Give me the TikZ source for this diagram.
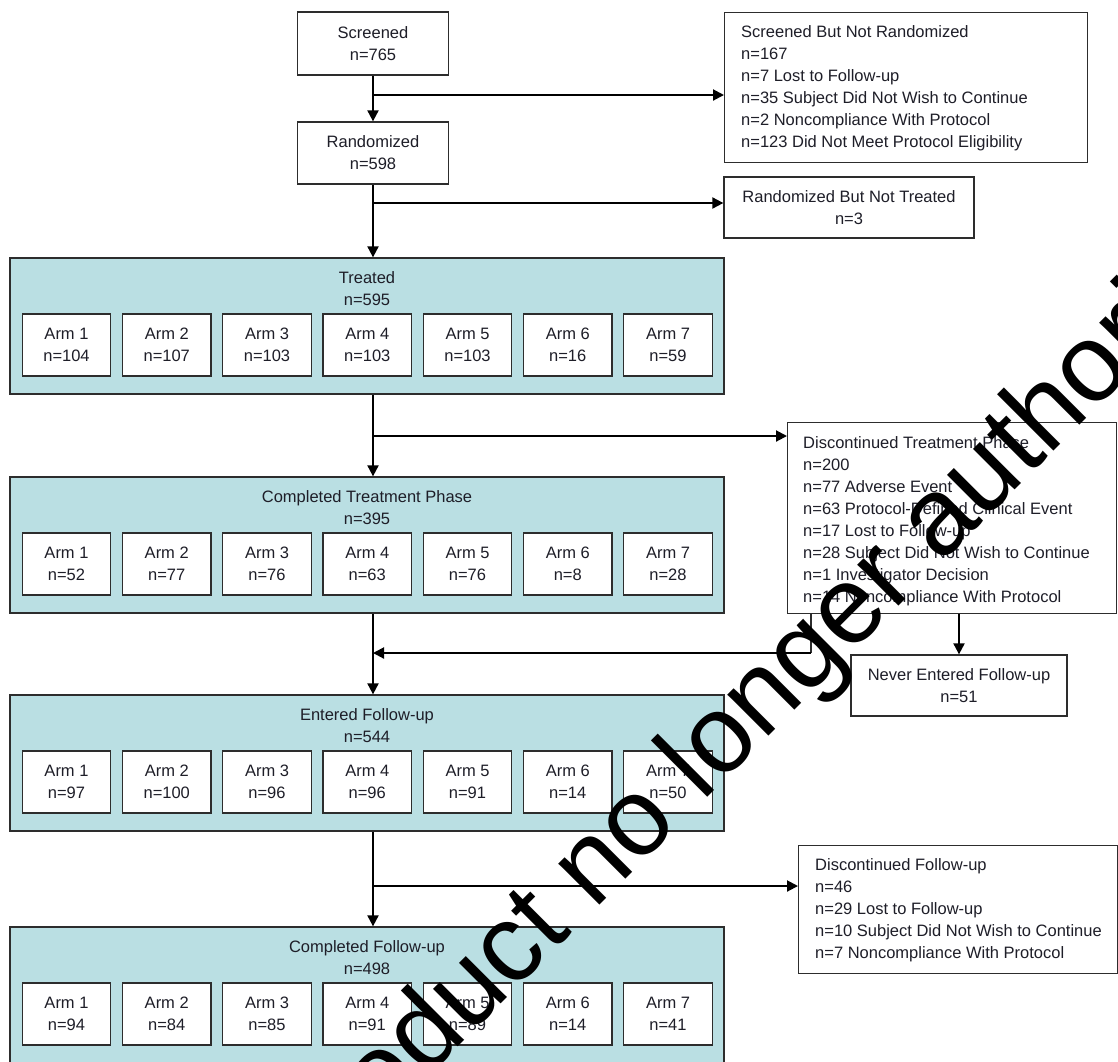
\documentclass[tikz,border=0pt]{standalone}
\usepackage{fontspec}
\setmainfont{Liberation Sans}
\usetikzlibrary{arrows.meta}
\definecolor{panelfill}{RGB}{186,223,227}
\definecolor{boxline}{RGB}{45,45,45}
\definecolor{txt}{RGB}{30,30,40}
\newcommand{\fs}{\fontsize{16.5}{22}\selectfont}
\newcommand{\armgroup}[5]{%
  % #1 name, #2 top y, #3 title, #4 n, #5 values
  \node[panel, minimum width=714, minimum height=136] (#1) at (367,#2+68) {};
  \node[plain, align=center] (#1title) at (367,#2+31) {#3\\#4};
  \foreach \v [count=\i] in {#5} {
    \node[box, align=center, minimum width=88.5, minimum height=62]
      (#1arm\i) at ({66.5+100.25*(\i-1)},#2+87) {Arm \i\\n=\v};
  }%
}
\begin{document}
\begin{tikzpicture}[x=1pt,y=-1pt,
  box/.style={draw=boxline, line width=1.3pt, fill=white, text=txt, font=\fs, inner sep=0pt},
  frame/.style={draw=boxline, line width=1.3pt, fill=white, inner sep=0pt},
  panel/.style={draw=boxline, line width=1.3pt, fill=panelfill, inner sep=0pt},
  plain/.style={text=txt, font=\fs, inner sep=0pt},
  arr/.style={line width=2pt, draw=black, -{Triangle[length=11pt,width=11pt]}},
  thinln/.style={line width=1.3pt, draw=boxline}]
\useasboundingbox (0,0) rectangle (1118,1061);
\clip (0,0) rectangle (1118,1061);
\fill[white] (0,0) rectangle (1118,1061);

% top boxes
\node[box, align=center, minimum width=151, minimum height=63] (scr) at (373,43.5) {Screened\\n=765};
\node[box, align=center, minimum width=151, minimum height=62] (rnd) at (373,153) {Randomized\\n=598};
\node[frame, anchor=north west, minimum width=363, minimum height=150] (snr) at (724,12) {};
\node[plain, align=left, anchor=west] (snrtxt) at ([xshift=17,yshift=-1]snr.west)
  {Screened But Not Randomized\\n=167\\n=7 Lost to Follow-up\\n=35 Subject Did Not Wish to Continue\\n=2 Noncompliance With Protocol\\n=123 Did Not Meet Protocol Eligibility};
\node[box, align=center, minimum width=250, minimum height=61] (rnt) at (849,207.5) {Randomized But Not Treated\\n=3};

% panels
\armgroup{trt}{258}{Treated}{n=595}{104,107,103,103,103,16,59}
\armgroup{ctp}{477}{Completed Treatment Phase}{n=395}{52,77,76,63,76,8,28}
\armgroup{efu}{695}{Entered Follow-up}{n=544}{97,100,96,96,91,14,50}
\armgroup{cfu}{927}{Completed Follow-up}{n=498}{94,84,85,91,89,14,41}

% right boxes
\node[frame, anchor=north west, minimum width=329, minimum height=191] (dtp) at (787,422) {};
\node[plain, align=left, anchor=west] (dtptxt) at ([xshift=16,yshift=-3]dtp.west)
  {Discontinued Treatment Phase\\n=200\\n=77 Adverse Event\\n=63 Protocol-Defined Clinical Event\\n=17 Lost to Follow-up\\n=28 Subject Did Not Wish to Continue\\n=1 Investigator Decision\\n=14 Noncompliance With Protocol};
\node[box, align=center, minimum width=216, minimum height=61] (nef) at (959,685.5) {Never Entered Follow-up\\n=51};
\node[frame, anchor=north west, minimum width=319, minimum height=128] (dfu) at (798,845) {};
\node[plain, align=left, anchor=west] (dfutxt) at ([xshift=17,yshift=-1]dfu.west)
  {Discontinued Follow-up\\n=46\\n=29 Lost to Follow-up\\n=10 Subject Did Not Wish to Continue\\n=7 Noncompliance With Protocol};

% connectors
\coordinate (b1) at (373,95);
\coordinate (b2) at (373,203);
\coordinate (b3) at (373,436);
\coordinate (b4) at (373,886);
\coordinate (j) at (811,653);
\draw[arr] (scr.south) -- (rnd.north);
\draw[arr] (b1) -- (b1 -| snr.west);
\draw[arr] (rnd.south) -- (rnd.south |- trt.north);
\draw[arr] (b2) -- (b2 -| rnt.west);
\draw[arr] (trt.south -| b3) -- (ctp.north -| b3);
\draw[arr] (b3) -- (b3 -| dtp.west);
\draw[arr] (ctp.south -| b3) -- (efu.north -| b3);
\draw[thinln] (dtp.south -| j) -- (j);
\draw[arr] (j) -- (j -| b3);
\draw[arr] (dtp.south -| nef.north) -- (nef.north);
\draw[arr] (efu.south -| b4) -- (cfu.north -| b4);
\draw[arr] (b4) -- (b4 -| dfu.west);

% watermark
\node[rotate=45, anchor=base west, inner sep=0pt, text=black,
  font=\fontsize{110}{120}\selectfont] (wm) at (-36.5,1541.5) {Medicinal product no longer authorised};
\end{tikzpicture}
\end{document}
